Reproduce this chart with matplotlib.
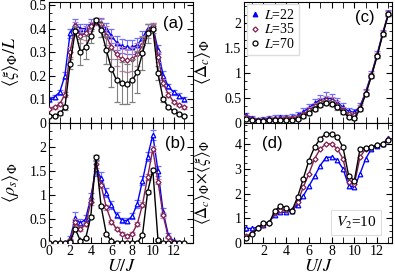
import numpy as np
import matplotlib
matplotlib.use('Agg')
import matplotlib.pyplot as plt
from matplotlib.ticker import MultipleLocator, AutoMinorLocator
from matplotlib.lines import Line2D

# U/J grids
x_left = [0, 0.5, 1, 1.5, 2, 2.5, 3, 3.5, 4, 4.5, 5, 5.5, 6, 6.5, 7, 7.5,
          8, 8.5, 9, 9.5, 10, 10.5, 11, 11.5, 12, 12.5, 13]
x_right = [0.5, 1, 1.5, 2, 2.5, 3, 3.5, 4, 4.5, 5, 5.5, 6, 6.5, 7, 7.5,
           8, 8.5, 9, 9.5, 10, 10.5, 11, 11.5, 12, 12.5, 13]

# (a) <xi>/L
xi_22 = [0.10, 0.11, 0.13, 0.20, 0.38, 0.42, 0.40, 0.40, 0.42, 0.43, 0.425, 0.40, 0.37, 0.34,
         0.325, 0.32, 0.32, 0.33, 0.36, 0.40, 0.41, 0.31, 0.20, 0.155, 0.13, 0.115, 0.10]
xi_35 = [0.06, 0.065, 0.08, 0.12, 0.30, 0.41, 0.37, 0.38, 0.41, 0.43, 0.42, 0.37, 0.32, 0.29,
         0.27, 0.265, 0.27, 0.29, 0.33, 0.39, 0.41, 0.28, 0.17, 0.12, 0.09, 0.075, 0.065]
xi_70 = [0.03, 0.03, 0.04, 0.065, 0.25, 0.39, 0.30, 0.32, 0.37, 0.435, 0.395, 0.31, 0.23, 0.18,
         0.17, 0.165, 0.18, 0.215, 0.295, 0.38, 0.40, 0.21, 0.10, 0.066, 0.05, 0.037, 0.03]
xi_22_err = [0.01, 0.01, 0.01, 0.015, 0.02, 0.02, 0.02, 0.02, 0.02, 0.015, 0.02, 0.025, 0.03, 0.03,
             0.03, 0.03, 0.03, 0.03, 0.03, 0.02, 0.015, 0.02, 0.02, 0.01, 0.01, 0.01, 0.01]
xi_35_err = [0.005, 0.005, 0.008, 0.01, 0.02, 0.02, 0.03, 0.03, 0.02, 0.015, 0.02, 0.04, 0.05, 0.05,
             0.05, 0.05, 0.05, 0.05, 0.04, 0.03, 0.015, 0.02, 0.015, 0.01, 0.008, 0.005, 0.005]
xi_70_err = [0.005, 0.005, 0.005, 0.01, 0.02, 0.02, 0.055, 0.05, 0.03, 0.01, 0.03, 0.06, 0.08, 0.09,
             0.09, 0.085, 0.09, 0.09, 0.07, 0.04, 0.02, 0.03, 0.01, 0.005, 0.005, 0.005, 0.005]

# (b) <rho_s>
rho_22 = [0, 0, 0, 0, 0.10, 0.52, 0.42, 0.50, 0.95, 1.55, 1.35, 1.05, 0.80, 0.58,
          0.48, 0.47, 0.56, 0.82, 1.30, 1.80, 2.25, 1.50, 0.65, 0.17, 0.05, 0.01, 0]
rho_35 = [0, 0, 0, 0, 0.06, 0.45, 0.30, 0.40, 0.85, 1.65, 1.20, 0.75, 0.45, 0.30,
          0.20, 0.15, 0.20, 0.40, 0.80, 1.38, 1.95, 1.28, 0.58, 0.13, 0.03, 0.01, 0]
rho_70 = [0, 0, 0, 0, 0.03, 0.30, 0.05, 0.10, 0.55, 1.78, 0.77, 0.20, 0.04, 0.01,
          0, 0, 0, 0.01, 0.17, 1.07, 1.52, 0.07, 0.01, 0, 0, 0, 0]
rho_22_err = [0, 0, 0, 0, 0.05, 0.12, 0.08, 0.08, 0.1, 0.15, 0.12, 0.1, 0.08, 0.06,
              0.05, 0.05, 0.06, 0.08, 0.1, 0.1, 0.1, 0.1, 0.08, 0.05, 0.02, 0.01, 0]
rho_35_err = [0, 0, 0, 0, 0.03, 0.06, 0.05, 0.05, 0.06, 0.08, 0.06, 0.05, 0.04, 0.03,
              0.03, 0.03, 0.03, 0.04, 0.05, 0.06, 0.06, 0.06, 0.05, 0.03, 0.01, 0, 0]
rho_70_err = [0, 0, 0, 0, 0.01, 0.03, 0.02, 0.02, 0.03, 0.05, 0.03, 0.02, 0.01, 0,
              0, 0, 0, 0, 0.02, 0.04, 0.05, 0.02, 0, 0, 0, 0, 0]

# (c) <Delta_c>
gap_22 = [0.15, 0.10, 0.06, 0.07, 0.09, 0.10, 0.11, 0.11, 0.12, 0.15, 0.22, 0.30, 0.39,
          0.46, 0.50, 0.48, 0.41, 0.31, 0.23, 0.21, 0.33, 0.62, 0.97, 1.37, 1.80, 2.20]
gap_35 = [0.11, 0.08, 0.05, 0.05, 0.07, 0.08, 0.08, 0.09, 0.09, 0.11, 0.17, 0.25, 0.33,
          0.41, 0.45, 0.43, 0.36, 0.26, 0.17, 0.15, 0.30, 0.60, 0.95, 1.35, 1.79, 2.19]
gap_70 = [0.08, 0.06, 0.04, 0.03, 0.05, 0.06, 0.06, 0.06, 0.06, 0.08, 0.13, 0.20, 0.28,
          0.36, 0.40, 0.38, 0.31, 0.21, 0.12, 0.09, 0.27, 0.57, 0.93, 1.33, 1.77, 2.17]
gap_22_err = [0.05, 0.04, 0.04, 0.04, 0.05, 0.05, 0.05, 0.05, 0.05, 0.06, 0.07, 0.08, 0.09,
              0.1, 0.11, 0.1, 0.09, 0.08, 0.07, 0.06, 0.06, 0.06, 0.06, 0.06, 0.06, 0.06]
gap_35_err = [0.04, 0.03, 0.03, 0.03, 0.04, 0.04, 0.04, 0.04, 0.04, 0.05, 0.05, 0.06, 0.07,
              0.08, 0.08, 0.08, 0.07, 0.06, 0.05, 0.05, 0.05, 0.05, 0.05, 0.05, 0.05, 0.05]
gap_70_err = [0.02, 0.02, 0.02, 0.02, 0.02, 0.02, 0.02, 0.02, 0.02, 0.03, 0.03, 0.04, 0.05,
              0.05, 0.05, 0.05, 0.05, 0.04, 0.03, 0.03, 0.03, 0.03, 0.03, 0.03, 0.03, 0.03]

# (d) <Delta_c> x <xi>
prod_22 = [0.60, 0.60, 0.65, 0.75, 0.85, 1.15, 1.25, 1.25, 1.30, 1.55, 1.90, 2.30, 2.70,
           3.13, 3.45, 3.47, 3.35, 3.00, 2.32, 2.25, 2.80, 3.40, 3.80, 3.92, 4.00, 4.24]
prod_35 = [0.30, 0.40, 0.60, 0.75, 0.82, 1.20, 1.35, 1.35, 1.32, 1.65, 2.25, 2.80, 3.40,
           3.80, 4.00, 4.00, 3.80, 3.40, 2.45, 2.38, 3.47, 3.80, 3.88, 3.94, 4.00, 4.18]
prod_70 = [0.23, 0.36, 0.60, 0.83, 0.81, 1.31, 1.51, 1.44, 1.31, 1.85, 2.59, 3.33, 3.87,
           4.21, 4.41, 4.41, 4.28, 3.87, 2.72, 2.52, 3.80, 3.85, 3.88, 3.94, 4.00, 4.14]

sizes = ['22', '35', '70']
colors = ['#0000ff', '#80204f', '#000000']
err_colors = ['#7070ff', '#c080a8', '#808080']
markers = ['^', 'D', 'o']
msizes = [3.3, 2.6, 3.6]

plt.rcParams['font.family'] = ['Liberation Serif', 'DejaVu Serif']
plt.rcParams['mathtext.fontset'] = 'stix'
plt.rcParams['font.size'] = 10
plt.rcParams['xtick.direction'] = 'in'
plt.rcParams['ytick.direction'] = 'in'
plt.rcParams['xtick.top'] = True
plt.rcParams['ytick.right'] = True
plt.rcParams['xtick.major.size'] = 4
plt.rcParams['ytick.major.size'] = 4
plt.rcParams['xtick.minor.size'] = 4
plt.rcParams['ytick.minor.size'] = 2.5
plt.rcParams['xtick.major.pad'] = 1.5
plt.rcParams['ytick.major.pad'] = 2

fig = plt.figure(figsize=(3.95, 2.74), dpi=100)
ax_a = fig.add_axes([0.125, 0.552, 0.364, 0.4425])
ax_b = fig.add_axes([0.125, 0.112, 0.364, 0.440])
ax_c = fig.add_axes([0.618, 0.552, 0.374, 0.4425])
ax_d = fig.add_axes([0.618, 0.112, 0.374, 0.440])


def draw(ax, x, ys, errs):
    for i in range(3):
        ax.errorbar(x, ys[i], yerr=errs[i], color=colors[i], ecolor=err_colors[i],
                    marker=markers[i], ms=msizes[i], mfc='white', mec=colors[i], mew=0.9,
                    lw=1.0, elinewidth=0.8, capsize=2.5, capthick=0.8, zorder=2 + i)


draw(ax_a, x_left, [xi_22, xi_35, xi_70], [xi_22_err, xi_35_err, xi_70_err])
draw(ax_b, x_left, [rho_22, rho_35, rho_70], [rho_22_err, rho_35_err, rho_70_err])
draw(ax_c, x_right, [gap_22, gap_35, gap_70], [gap_22_err, gap_35_err, gap_70_err])
draw(ax_d, x_right, [prod_22, prod_35, prod_70], [None, None, None])

for ax in [ax_a, ax_b]:
    ax.set_xlim(0, 13.9)
for ax in [ax_c, ax_d]:
    ax.set_xlim(0.3, 13.3)
for ax in [ax_a, ax_b, ax_c, ax_d]:
    ax.xaxis.set_major_locator(MultipleLocator(2))
    ax.xaxis.set_minor_locator(MultipleLocator(1))
    ax.yaxis.set_minor_locator(AutoMinorLocator(3))
    ax.tick_params(labelsize=10)

ax_a.set_ylim(0, 0.515)
ax_a.set_yticks([0, 0.1, 0.2, 0.3, 0.4, 0.5])
ax_a.set_yticklabels(['0', '0.1', '0.2', '0.3', '0.4', '0.5'])
ax_b.set_ylim(0, 2.5)
ax_b.set_yticks([0, 0.5, 1, 1.5, 2])
ax_b.set_yticklabels(['0', '0.5', '1', '1.5', '2'])
ax_c.set_ylim(0, 2.43)
ax_c.set_yticks([0, 0.5, 1, 1.5, 2])
ax_c.set_yticklabels(['0', '0.5', '1', '1.5', '2'])
ax_d.set_ylim(0, 4.85)
ax_d.set_yticks([0, 1, 2, 3, 4])
ax_d.yaxis.set_minor_locator(AutoMinorLocator(4))

ax_a.tick_params(labelbottom=False)
ax_c.tick_params(labelbottom=False)

ax_b.set_xlabel(r'$U/J$', fontsize=13, labelpad=0)
ax_d.set_xlabel(r'$U/J$', fontsize=13, labelpad=0)

ax_a.set_ylabel(r'$\langle\xi\rangle_{\Phi}/L$', fontsize=13)
ax_b.set_ylabel(r'$\langle\rho_s\rangle_{\Phi}$', fontsize=13)
ax_c.set_ylabel(r'$\langle\Delta_c\rangle_{\Phi}$', fontsize=13)
ax_d.set_ylabel(r'$\langle\Delta_c\rangle_{\Phi}\!\times\!\langle\xi\rangle_{\Phi}$', fontsize=12)
for ax in [ax_a, ax_b]:
    ax.yaxis.set_label_coords(-0.195, 0.5)
for ax in [ax_c, ax_d]:
    ax.yaxis.set_label_coords(-0.21, 0.5)

panel_font = ['Liberation Sans', 'DejaVu Sans']
ax_a.text(0.86, 0.82, '(a)', transform=ax_a.transAxes, ha='center', va='center',
          family=panel_font, fontsize=12)
ax_b.text(0.875, 0.83, '(b)', transform=ax_b.transAxes, ha='center', va='center',
          family=panel_font, fontsize=12)
ax_c.text(0.82, 0.865, '(c)', transform=ax_c.transAxes, ha='center', va='center',
          family=panel_font, fontsize=12)
ax_d.text(0.19, 0.825, '(d)', transform=ax_d.transAxes, ha='center', va='center',
          family=panel_font, fontsize=12)

handles = [Line2D([], [], ls='none', marker=markers[i], ms=msizes[i],
                  mfc=colors[i] if i == 0 else 'white', mec=colors[i], mew=0.9)
           for i in range(3)]
ax_c.legend(handles, [r'$L$=' + s for s in sizes], loc='upper left', fontsize=10,
            frameon=True, fancybox=False, edgecolor='#dddddd', framealpha=1,
            handlelength=0.6, handletextpad=0.4, labelspacing=0.05, borderpad=0.25,
            borderaxespad=0.2)

ax_d.text(0.76, 0.17, r'$V_2$=10', transform=ax_d.transAxes, ha='center', va='center',
          fontsize=11, bbox=dict(boxstyle='square,pad=0.3', fc='white', ec='#dddddd', lw=0.8))

fig.savefig('out.png', dpi=100)
